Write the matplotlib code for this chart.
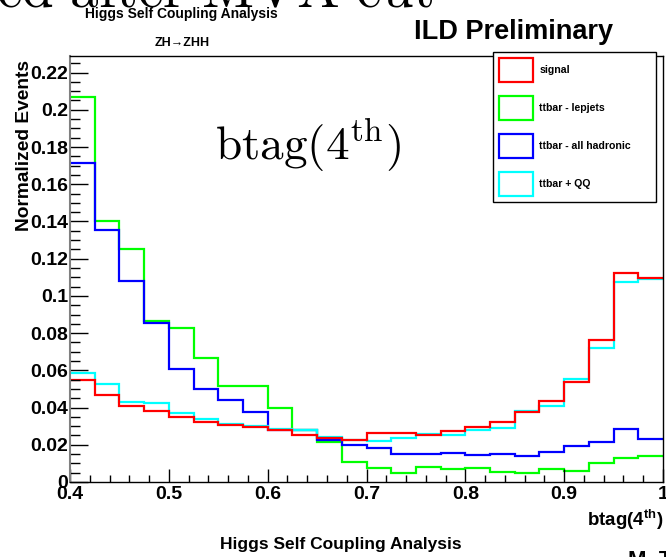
import numpy as np
import matplotlib.pyplot as plt
from matplotlib.patches import Patch
from matplotlib.ticker import MultipleLocator, FuncFormatter

plt.rcParams['font.family'] = ['Liberation Sans', 'DejaVu Sans']
plt.rcParams['font.weight'] = 'bold'
plt.rcParams['mathtext.fontset'] = 'custom'
plt.rcParams['mathtext.rm'] = 'Liberation Sans:bold'
plt.rcParams['mathtext.bf'] = 'Liberation Sans:bold'

# btag(4th) histogram, 24 bins from 0.4 to 1.0
bin_lo = 0.4
bin_w = 0.025
signal = [0.0547, 0.0470, 0.0407, 0.0382, 0.0350, 0.0323, 0.0306, 0.0296, 0.0278, 0.0255, 0.0235, 0.0224,
          0.0264, 0.0264, 0.0250, 0.0273, 0.0294, 0.0325, 0.0377, 0.0433, 0.0540, 0.0764, 0.1121, 0.1096]
lepjets = [0.207, 0.140, 0.125, 0.0866, 0.0829, 0.0664, 0.0517, 0.0517, 0.0397, 0.0282, 0.0215, 0.0108,
           0.0076, 0.0050, 0.0081, 0.0071, 0.0075, 0.0056, 0.0050, 0.0070, 0.0059, 0.0104, 0.0128, 0.0138]
hadronic = [0.1716, 0.1356, 0.1078, 0.0852, 0.0606, 0.0500, 0.0440, 0.0377, 0.0282, 0.0280, 0.0228, 0.0197,
            0.0183, 0.0153, 0.0153, 0.0158, 0.0144, 0.0153, 0.0138, 0.0163, 0.0192, 0.0217, 0.0283, 0.0233]
ttqq = [0.0587, 0.0526, 0.0429, 0.0423, 0.0371, 0.0336, 0.0309, 0.0303, 0.0287, 0.0282, 0.0242, 0.0228,
        0.0221, 0.0237, 0.0257, 0.0250, 0.0277, 0.0290, 0.0380, 0.0409, 0.0554, 0.0718, 0.1076, 0.1090]

labels = ['signal', 'ttbar - lepjets', 'ttbar - all hadronic', 'ttbar + QQ']
colors = ['#ff0000', '#00ff00', '#0000ff', '#00ffff']

W, H = 666, 557
def fx(px):
    return px / W
def fy(py):
    return 1 - py / H

fig = plt.figure(figsize=(6.66, 5.57), dpi=100)
ax = fig.add_axes([fx(70), 75 / H, 593 / W, 426 / H])

edges = bin_lo + bin_w * np.arange(len(signal) + 1)
# draw order: green, blue, cyan, red on top
for vals, c in [(lepjets, colors[1]), (hadronic, colors[2]), (ttqq, colors[3]), (signal, colors[0])]:
    ax.stairs(vals, edges, color=c, lw=1.6, baseline=None)

ax.set_xlim(0.4, 1.0)
ax.set_ylim(0, 0.2289)

ax.xaxis.set_major_locator(MultipleLocator(0.1))
ax.xaxis.set_minor_locator(MultipleLocator(0.02))
ax.yaxis.set_major_locator(MultipleLocator(0.02))
ax.yaxis.set_minor_locator(MultipleLocator(0.005))
ax.xaxis.set_major_formatter(FuncFormatter(lambda v, p: f'{round(v, 3):g}'))
ax.yaxis.set_major_formatter(FuncFormatter(lambda v, p: f'{round(v, 3):g}'))
ax.tick_params(axis='x', which='major', direction='in', length=9.5, width=1, labelsize=14, pad=3)
ax.tick_params(axis='x', which='minor', direction='in', length=5, width=1)
ax.tick_params(axis='y', which='major', direction='in', length=13, width=1, labelsize=14, pad=1.5)
ax.tick_params(axis='y', which='minor', direction='in', length=7, width=1)
for lab in ax.get_xticklabels() + ax.get_yticklabels():
    lab.set_fontweight('bold')
ax.spines['left'].set_color('#808080')
ax.spines['left'].set_linewidth(1.5)
for s in ['top', 'right', 'bottom']:
    ax.spines[s].set_linewidth(1)

handles = [Patch(facecolor='white', edgecolor=c, lw=1.6) for c in colors]
leg = fig.legend(handles, labels, loc='upper left',
                 bbox_to_anchor=(fx(493), fy(216), fx(656) - fx(493), fy(52) - fy(216)),
                 mode='expand', borderaxespad=0, fontsize=7.6, handlelength=3.25, handleheight=3.15,
                 labelspacing=1.3, borderpad=0.58, handletextpad=0.55, fancybox=False,
                 framealpha=1, edgecolor='black')
leg.get_frame().set_linewidth(1)
for t in leg.get_texts():
    t.set_fontweight('bold')

# texts
fig.text(fx(-4), fy(7), r'$\mathrm{ed\ after\ MVA\ cut}$', fontsize=41, math_fontfamily='cm',
         ha='left', va='baseline')
fig.text(fx(181), fy(14), 'Higgs Self Coupling Analysis', fontsize=10, fontweight='bold',
         ha='center', va='center')
fig.text(fx(182), fy(43), 'ZH→ZHH', fontsize=9, fontweight='bold', ha='center', va='center')
fig.text(fx(514), fy(32), 'ILD Preliminary', fontsize=19.5, fontweight='bold', ha='center', va='center')
fig.text(fx(215), fy(160), r'$\mathrm{btag}(4^{\mathrm{th}})$', fontsize=34, math_fontfamily='cm',
         ha='left', va='baseline')
fig.text(fx(25), fy(60), 'Normalized Events', fontsize=13.8, fontweight='bold', rotation=90,
         ha='center', va='top')
fig.text(fx(664), fy(526), r'btag(4$^{\mathrm{th}}$)', fontsize=13.5, fontweight='bold',
         ha='right', va='baseline')
fig.text(fx(341), fy(545), 'Higgs Self Coupling Analysis', fontsize=12.5, fontweight='bold',
         ha='center', va='center')
fig.text(fx(628), fy(550), 'M. T', fontsize=16, fontweight='bold', ha='left', va='top')

fig.savefig('out.png', dpi=100)
